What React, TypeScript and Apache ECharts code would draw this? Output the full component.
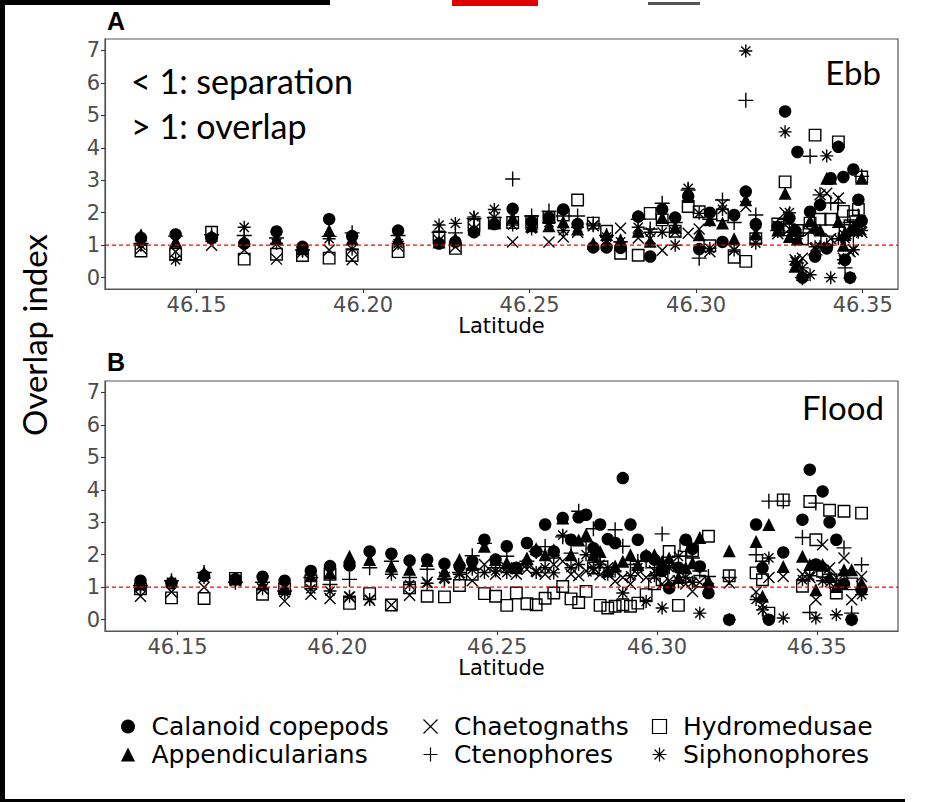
import React, { useEffect, useRef } from 'react';
import * as echarts from 'echarts';

// ---------- data ----------
const xTicks = [46.15, 46.2, 46.25, 46.3, 46.35];
const yTicks = [0, 1, 2, 3, 4, 5, 6, 7];
const referenceLevel = 1;

// Panel A (Ebb) station latitudes and overlap values per taxon
const ebbLat = [46.1333, 46.1437, 46.1545, 46.1643, 46.174, 46.1818, 46.1898, 46.1967, 46.2105, 46.2228,
  46.2277, 46.2333, 46.2394, 46.2449, 46.2506, 46.2558, 46.2601, 46.2644, 46.2691, 46.2731,
  46.2773, 46.2826, 46.2862, 46.2898, 46.2937, 46.2976, 46.3009, 46.3041, 46.3079, 46.3114,
  46.3149, 46.3179, 46.3245, 46.3267, 46.328, 46.3297, 46.3304, 46.3319, 46.3342, 46.3357,
  46.3372, 46.3392, 46.3404, 46.3427, 46.3442, 46.3447, 46.3462, 46.3472, 46.3487, 46.3497];
const ebbCalanoid = [1.22, 1.33, 1.22, 1.05, 1.42, 0.95, 1.8, 1.28, 1.45, 1.05,
  1.1, 1.4, 1.65, 2.12, 1.72, 1.85, 2.1, 1.65, 0.93, 0.93,
  0.92, 1.88, 0.65, 2.1, 1.85, 2.5, 0.88, 2.0, 1.1, 1.93,
  2.65, 1.65, 1.57, 5.12, 1.83, 1.45, 3.87, 0.0, 2.03, 0.65,
  2.24, 0.9, 3.06, 4.03, 3.1, 0.55, 0.0, 3.33, 2.4, 1.75];
const ebbAppendicularians = [1.32, 1.12, 1.3, 1.15, 1.2, 0.9, 1.45, 1.2, 1.2, 1.1,
  1.2, 1.5, 1.7, 1.85, 1.6, 1.6, 1.72, 1.5, 1.06, 1.33,
  1.17, 1.43, 1.12, 1.85, 1.55, 2.5, 1.32, 1.78, 1.68, 1.2,
  2.4, 1.35, 1.47, 2.6, 1.27, 0.35, 1.2, 0.1, 1.75, 1.55,
  1.47, 3.06, 3.06, 1.73, 1.0, 1.4, 1.5, 1.55, 1.75, 3.06];
const ebbChaetognaths = [0.9, 0.8, 1.0, 0.85, 0.57, 0.78, 0.85, 0.55, 0.97, 1.15,
  0.95, 1.5, 1.85, 1.1, 1.55, 1.1, 1.25, 1.4, 1.6, 1.15,
  1.52, 1.22, 1.2, 0.84, 1.4, 1.37, 1.5, 0.8, 2.25, 0.85,
  2.19, 1.4, 1.35, 2.0, 1.5, 0.55, 0.4, 0.6, 1.45, 0.9,
  2.55, 2.6, 1.2, 2.45, 0.6, 1.3, 0.8, 0.86, 1.5, 1.4];
const ebbCtenophores = [1.05, 1.28, 1.32, 1.3, 1.22, 0.85, 1.27, 1.38, 1.3, 1.4,
  1.38, 1.82, 1.85, 3.04, 1.9, 2.05, 1.9, 1.9, 1.65, 1.3,
  1.1, 1.8, 1.5, 2.29, 1.7, 2.7, 0.6, 1.8, 2.39, 1.7,
  5.46, 1.93, 1.45, 1.8, 1.4, 1.2, 1.3, 0.0, 3.74, 0.7,
  2.55, 1.0, 2.3, 2.3, 1.15, 0.3, 1.7, 1.3, 1.9, 3.12];
const ebbHydromedusae = [0.82, 0.72, 1.4, 0.57, 0.72, 0.68, 0.6, 0.68, 0.8, 1.25,
  0.9, 1.62, 1.68, 1.7, 1.73, 1.85, 1.93, 2.39, 1.68, 1.43,
  0.75, 0.69, 1.98, 1.78, 1.43, 2.19, 2.03, 0.98, 1.93, 0.63,
  0.5, 1.2, 1.65, 2.95, 1.47, 1.3, 1.45, 1.2, 1.68, 4.39,
  1.8, 1.1, 1.8, 4.18, 2.04, 1.45, 1.6, 1.9, 2.1, 3.1];
const ebbSiphonophores = [1.0, 0.55, 1.2, 1.55, 1.05, 0.82, 1.2, 0.88, 1.05, 1.62,
  1.67, 1.87, 2.1, 1.62, 1.5, 1.7, 1.45, 1.55, 1.6, 1.25,
  1.1, 1.55, 1.4, 1.4, 1.0, 2.75, 1.98, 0.9, 2.1, 0.85,
  6.98, 1.06, 1.6, 4.49, 2.0, 0.5, 0.45, 0.3, 0.09, 0.95,
  0.96, 3.75, 0.0, 1.2, 0.55, 1.2, 0.0, 0.86, 1.4, 1.45];

// Panel B (Flood)
const floodLat = [46.1384, 46.1481, 46.1583, 46.1681, 46.1766, 46.1835, 46.1917, 46.1977, 46.2038, 46.2101,
  46.2169, 46.2226, 46.2281, 46.2335, 46.2382, 46.2422, 46.246, 46.2495, 46.253, 46.256,
  46.2593, 46.2622, 46.265, 46.2677, 46.2705, 46.2731, 46.2755, 46.2778, 46.2801, 46.2822,
  46.2846, 46.2869, 46.2893, 46.2917, 46.294, 46.2966, 46.2992, 46.3016, 46.3038, 46.3067,
  46.309, 46.3111, 46.3134, 46.3161, 46.3226, 46.331, 46.333, 46.335, 46.3395, 46.3455,
  46.3478, 46.3497, 46.3518, 46.354, 46.3561, 46.3585, 46.3609, 46.364];
const floodCalanoid = [1.2, 1.12, 1.35, 1.25, 1.32, 1.2, 1.5, 1.65, 1.67, 2.1,
  2.03, 1.82, 1.85, 1.72, 1.65, 1.8, 2.46, 1.85, 2.26, 1.6,
  2.36, 2.1, 2.93, 2.1, 3.13, 2.46, 3.15, 3.23, 2.2, 2.93,
  2.48, 2.36, 4.36, 2.93, 2.46, 1.95, 1.85, 1.5, 0.97, 1.6,
  2.46, 2.18, 1.64, 0.82, 0.0, 2.93, 1.59, 0.0, 2.07, 3.08,
  4.62, 1.7, 3.95, 3.0, 2.46, 1.1, 0.0, 0.92];
const floodAppendicularians = [1.1, 1.2, 1.45, 1.25, 1.1, 1.0, 1.35, 1.45, 1.95, 1.85,
  1.65, 1.55, 1.82, 1.5, 1.85, 1.7, 2.26, 1.85, 1.75, 1.6,
  1.9, 2.18, 2.0, 2.15, 3.13, 2.0, 2.45, 2.62, 2.0, 2.1,
  1.5, 1.65, 1.8, 2.0, 1.7, 2.0, 2.0, 1.8, 1.9, 1.3,
  1.6, 1.75, 2.53, 1.2, 2.12, 2.41, 0.72, 2.93, 1.64, 1.95,
  1.7, 0.92, 1.7, 1.33, 1.02, 1.54, 1.54, 1.13];
const floodChaetognaths = [0.72, 0.85, 1.0, 1.2, 0.95, 0.57, 0.78, 0.65, 0.7, 0.6,
  0.45, 0.75, 1.15, 1.3, 1.45, 1.2, 1.7, 1.4, 1.6, 1.4,
  1.55, 1.5, 1.4, 1.7, 1.8, 1.4, 1.35, 1.5, 1.5, 1.38,
  1.6, 1.18, 1.3, 1.1, 1.4, 1.3, 1.5, 1.1, 1.2, 1.2,
  1.1, 0.87, 1.15, 0.95, 1.13, 0.85, 0.45, 1.3, 1.33, 1.4,
  1.3, 0.61, 2.31, 1.6, 1.3, 1.9, 0.61, 1.33];
const floodCtenophores = [1.05, 1.2, 1.45, 1.15, 1.15, 0.88, 1.3, 1.08, 1.24, 1.6,
  1.8, 1.3, 1.55, 1.25, 1.45, 1.97, 2.35, 1.6, 1.95, 1.5,
  1.8, 2.1, 2.25, 1.9, 2.55, 2.05, 3.34, 2.4, 2.8, 1.8,
  1.6, 2.77, 2.26, 1.7, 1.8, 1.8, 1.6, 2.64, 1.65, 1.2,
  1.95, 1.9, 1.5, 1.33, 1.3, 2.0, 1.8, 3.65, 3.65, 2.53,
  0.22, 3.59, 1.5, 1.4, 1.2, 2.21, 0.2, 1.69];
const floodHydromedusae = [0.95, 0.67, 0.65, 1.27, 0.78, 0.95, 1.2, 1.4, 0.5, 0.8,
  0.45, 0.98, 0.72, 0.7, 1.05, 1.4, 0.8, 0.72, 0.44, 0.82,
  0.49, 0.46, 0.66, 0.82, 1.02, 0.64, 0.53, 0.87, 1.59, 0.44,
  0.36, 0.41, 0.46, 0.41, 0.51, 0.77, 1.1, 1.23, 2.1, 0.44,
  2.28, 2.12, 1.18, 2.57, 1.35, 1.44, 1.23, 0.2, 3.69, 1.03,
  3.64, 2.46, 1.49, 3.37, 0.82, 3.34, 1.1, 3.28];
const floodSiphonophores = [1.0, 1.15, 1.3, 1.2, 0.95, 0.82, 0.95, 0.88, 0.72, 0.62,
  1.4, 1.08, 1.12, 1.25, 1.4, 1.55, 1.45, 1.5, 1.45, 1.55,
  1.7, 1.45, 1.6, 1.44, 2.6, 1.6, 1.7, 2.0, 1.6, 1.7,
  1.4, 1.5, 0.82, 1.35, 1.6, 0.56, 1.35, 0.36, 1.6, 1.95,
  1.3, 1.15, 0.2, 1.0, 0.0, 0.62, 0.3, 1.9, 0.05, 1.23,
  1.35, 0.05, 1.2, 1.15, 0.15, 1.4, 0.0, 0.77];

const taxa = ['Calanoid copepods', 'Chaetognaths', 'Hydromedusae', 'Appendicularians', 'Ctenophores', 'Siphonophores'];
const ebbValues: Record<string, number[]> = {
  'Calanoid copepods': ebbCalanoid, 'Chaetognaths': ebbChaetognaths, 'Hydromedusae': ebbHydromedusae,
  'Appendicularians': ebbAppendicularians, 'Ctenophores': ebbCtenophores, 'Siphonophores': ebbSiphonophores,
};
const floodValues: Record<string, number[]> = {
  'Calanoid copepods': floodCalanoid, 'Chaetognaths': floodChaetognaths, 'Hydromedusae': floodHydromedusae,
  'Appendicularians': floodAppendicularians, 'Ctenophores': floodCtenophores, 'Siphonophores': floodSiphonophores,
};

// ---------- styles ----------
const CROSS = 'path://M0,0L10,10M10,0L0,10';
const PLUS = 'path://M5,0L5,10M0,5L10,5';
const STAR = 'path://M5,0L5,10M0,5L10,5M1.46,1.46L8.54,8.54M8.54,1.46L1.46,8.54';
const symbolStyle: Record<string, any> = {
  'Calanoid copepods': { symbol: 'circle', size: 12.5, item: { color: '#000', borderWidth: 0 } },
  'Appendicularians': { symbol: 'triangle', size: 13, item: { color: '#000', borderWidth: 0 } },
  'Hydromedusae': { symbol: 'rect', size: 11.5, item: { color: 'none', borderColor: '#000', borderWidth: 1.4 } },
  'Chaetognaths': { symbol: CROSS, size: 11, item: { color: 'none', borderColor: '#000', borderWidth: 1.4 } },
  'Ctenophores': { symbol: PLUS, size: 15, item: { color: 'none', borderColor: '#000', borderWidth: 1.4 } },
  'Siphonophores': { symbol: STAR, size: 13, item: { color: 'none', borderColor: '#000', borderWidth: 1.4 } },
};

const AXIS_FONT = 'DejaVu Sans';
const NOTE_FONT = 'Lato';

function makeAxes(gi: number, xmin: number, xmax: number) {
  const x = {
    type: 'value', gridIndex: gi, min: xmin, max: xmax,
    axisLine: { show: true, onZero: false, lineStyle: { color: '#555', width: 1.2 } },
    splitLine: { show: false },
    axisTick: { show: true, customValues: xTicks, length: 4, lineStyle: { color: '#333', width: 1.1 } },
    axisLabel: { customValues: xTicks, formatter: (v: number) => v.toFixed(2), fontSize: 21, fontFamily: AXIS_FONT, color: '#4D4D4D', margin: 5 },
    name: 'Latitude', nameLocation: 'middle', nameGap: 26,
    nameTextStyle: { fontSize: 21, fontFamily: AXIS_FONT, color: '#000' },
  };
  const y = {
    type: 'value', gridIndex: gi, min: -0.35, max: 7.35,
    axisLine: { show: true, onZero: false, lineStyle: { color: '#555', width: 1.2 } },
    splitLine: { show: false },
    axisTick: { show: true, customValues: yTicks, length: 4, lineStyle: { color: '#333', width: 1.1 } },
    axisLabel: { customValues: yTicks, fontSize: 21, fontFamily: AXIS_FONT, color: '#4D4D4D', margin: 5 },
  };
  return { x, y };
}

function makeSeries(gi: number, lat: number[], values: Record<string, number[]>, xmin: number, xmax: number) {
  const pts = taxa.map((name) => {
    const st = symbolStyle[name];
    return {
      type: 'scatter', name, xAxisIndex: gi, yAxisIndex: gi,
      data: lat.map((x, i) => [x, values[name][i]]),
      symbol: st.symbol, symbolSize: st.size,
      itemStyle: { ...st.item, opacity: 1 },
      emphasis: { disabled: true },
      z: 3,
    };
  });
  const ref = {
    type: 'line', name: 'ref' + gi, xAxisIndex: gi, yAxisIndex: gi,
    data: [[xmin, referenceLevel], [xmax, referenceLevel]],
    symbol: 'none', silent: true, z: 4,
    lineStyle: { color: '#FF0000', type: [4, 3], width: 1.2 },
    emphasis: { disabled: true },
  };
  return [...pts, ref];
}

function legendCol(left: number, names: string[]) {
  return {
    orient: 'vertical', left, top: 707.5, padding: 5, itemWidth: 14, itemHeight: 14, itemGap: 0,
    selectedMode: false, symbolKeepAspect: true,
    data: names.map((n) => ({
      name: n,
      itemStyle: symbolStyle[n].item.color === 'none'
        ? { color: 'none', borderColor: '#000', borderWidth: 1.2 }
        : { color: '#000', borderWidth: 0 },
    })),
    textStyle: { fontSize: 25, fontFamily: AXIS_FONT, color: '#000', lineHeight: 28, padding: [0, 0, 0, 11.5] },
  };
}

export default function App() {
  const ref = useRef<HTMLDivElement>(null);
  useEffect(() => {
    if (!ref.current) return;
    const chart = echarts.init(ref.current, null, { renderer: 'svg' });
    const aMin = 46.1225, aMax = 46.3606, bMin = 46.1273, bMax = 46.3754;
    const a = makeAxes(0, aMin, aMax);
    const b = makeAxes(1, bMin, bMax);
    chart.setOption({
      animation: false,
      backgroundColor: '#fff',
      grid: [
        { left: 105, top: 39, width: 793, height: 250, show: true, borderColor: '#555', borderWidth: 1.2, backgroundColor: '#fff' },
        { left: 105, top: 381, width: 793, height: 250, show: true, borderColor: '#555', borderWidth: 1.2, backgroundColor: '#fff' },
      ],
      xAxis: [a.x, b.x],
      yAxis: [a.y, b.y],
      legend: [
        legendCol(116, ['Calanoid copepods', 'Appendicularians']),
        legendCol(416, ['Chaetognaths', 'Ctenophores']),
        legendCol(645, ['Hydromedusae', 'Siphonophores']),
      ],
      series: [...makeSeries(0, ebbLat, ebbValues, aMin, aMax), ...makeSeries(1, floodLat, floodValues, bMin, bMax)],
      graphic: [
        { type: 'rect', shape: { x: 0, y: 0, width: 5, height: 802 }, style: { fill: '#000' }, silent: true },
        { type: 'rect', shape: { x: 0, y: 0, width: 330, height: 5 }, style: { fill: '#000' }, silent: true },
        { type: 'rect', shape: { x: 0, y: 799, width: 905, height: 3 }, style: { fill: '#000' }, silent: true },
        { type: 'rect', shape: { x: 452, y: 0, width: 86, height: 6 }, style: { fill: '#e00000' }, silent: true },
        { type: 'rect', shape: { x: 648, y: 2, width: 52, height: 3 }, style: { fill: '#555' }, silent: true },
        { type: 'text', x: 107, y: 8, style: { text: 'A', font: 'bold 25px "Liberation Sans"', fill: '#000', textVerticalAlign: 'top' } },
        { type: 'text', x: 107, y: 349, style: { text: 'B', font: 'bold 25px "Liberation Sans"', fill: '#000', textVerticalAlign: 'top' } },
        { type: 'text', x: 34, y: 335, rotation: Math.PI / 2, style: { text: 'Overlap index', font: `33px ${NOTE_FONT}`, fill: '#000', textAlign: 'center', textVerticalAlign: 'middle' } },
        { type: 'text', x: 131, y: 80, style: { text: '< 1: separation', font: `34px ${NOTE_FONT}`, fill: '#000', textVerticalAlign: 'middle' } },
        { type: 'text', x: 131, y: 125, style: { text: '> 1: overlap', font: `34px ${NOTE_FONT}`, fill: '#000', textVerticalAlign: 'middle' } },
        { type: 'text', x: 881, y: 72, style: { text: 'Ebb', font: `33px ${NOTE_FONT}`, fill: '#000', textAlign: 'right', textVerticalAlign: 'middle' } },
        { type: 'text', x: 884, y: 407, style: { text: 'Flood', font: `33px ${NOTE_FONT}`, fill: '#000', textAlign: 'right', textVerticalAlign: 'middle' } },
      ],
    });
    return () => chart.dispose();
  }, []);
  return <div ref={ref} style={{ position: 'absolute', left: 0, top: 0, width: 940, height: 802 }} />;
}
